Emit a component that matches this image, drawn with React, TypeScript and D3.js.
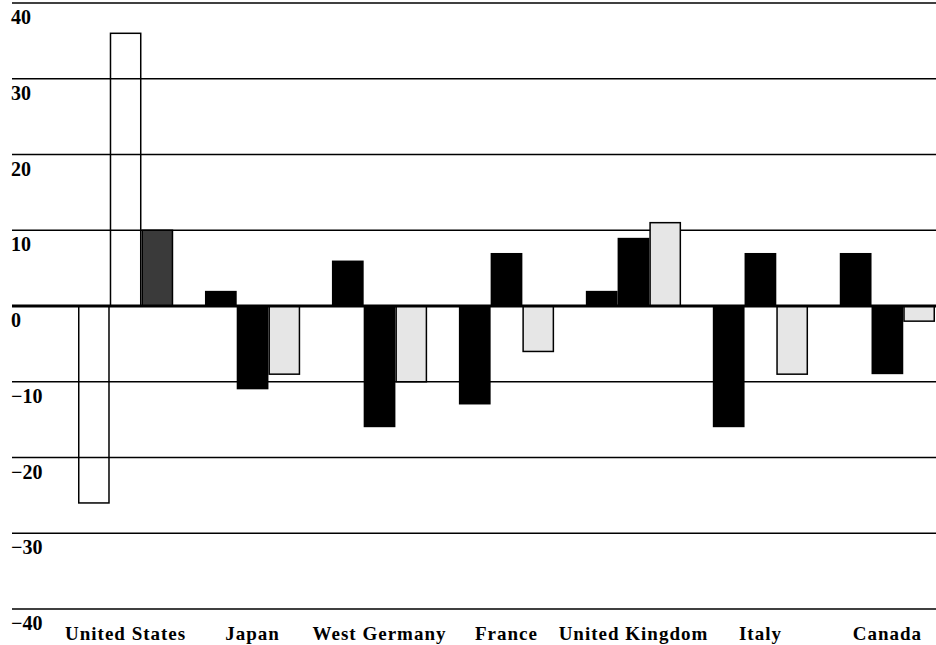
import React from "react";
import * as d3 from "d3";

const countries = ["United States", "Japan", "West Germany", "France", "United Kingdom", "Italy", "Canada"];
const seriesA = [-26, 2, 6, -13, 2, -16, 7];
const seriesB = [36, -11, -16, 7, 9, 7, -9];
const seriesC = [10, -9, -10, -6, 11, -9, -2];
const yTicks = [40, 30, 20, 10, 0, -10, -20, -30, -40];

const W = 936;
const H = 645;

export default function App() {
  const x = d3.scaleBand<string>().domain(countries).range([78, 935]).paddingInner(0.25).paddingOuter(0);
  const xs = d3.scaleBand<number>().domain([0, 1, 2]).range([0, x.bandwidth()]);
  const y = d3.scaleLinear().domain([-40, 40]).range([609, 3]);
  const series = [seriesA, seriesB, seriesC];

  const fillFor = (ci: number, si: number) => {
    if (ci === 0) return si === 2 ? "#3a3a3a" : "none";
    return si === 2 ? "#e6e6e6" : "#000";
  };
  const strokeFor = (ci: number, si: number) => {
    if (ci === 0) return "#000";
    return si === 2 ? "#000" : "none";
  };

  const font = "'Liberation Serif', 'Times New Roman', serif";

  return (
    <svg width={W} height={H} style={{ position: "absolute", left: 0, top: 0, background: "#fff" }}>
      <rect x={0} y={0} width={W} height={H} fill="#fff" />
      {yTicks.map((t) => (
        <g key={t}>
          <line x1={12} x2={936} y1={y(t)} y2={y(t)} stroke="#000" strokeWidth={t === 0 ? 0 : 1.6} />
          <text
            x={11}
            y={y(t) + 21}
            fontFamily={font}
            fontWeight="bold"
            fontSize={20}
            fill="#000"
          >
            {t < 0 ? "\u2212" + Math.abs(t) : String(t)}
          </text>
        </g>
      ))}
      {countries.map((c, ci) =>
        series.map((s, si) => {
          const v = s[ci];
          const x0 = (x(c) as number) + (xs(si) as number);
          const top = y(Math.max(0, v));
          const bot = y(Math.min(0, v));
          const stroke = strokeFor(ci, si);
          return (
            <rect
              key={c + si}
              x={x0 + (stroke === "none" ? 0 : 0.75)}
              y={top}
              width={xs.bandwidth() - (stroke === "none" ? 0 : 1.5)}
              height={bot - top}
              fill={fillFor(ci, si)}
              stroke={stroke}
              strokeWidth={1.5}
            />
          );
        })
      )}
      <line x1={12} x2={936} y1={y(0)} y2={y(0)} stroke="#000" strokeWidth={3} />
      {countries.map((c) => (
        <text
          key={c}
          x={(x(c) as number) + x.bandwidth() / 2}
          y={640}
          textAnchor="middle"
          fontFamily={font}
          fontWeight="bold"
          fontSize={19}
          letterSpacing={1}
          fill="#000"
        >
          {c}
        </text>
      ))}
    </svg>
  );
}
